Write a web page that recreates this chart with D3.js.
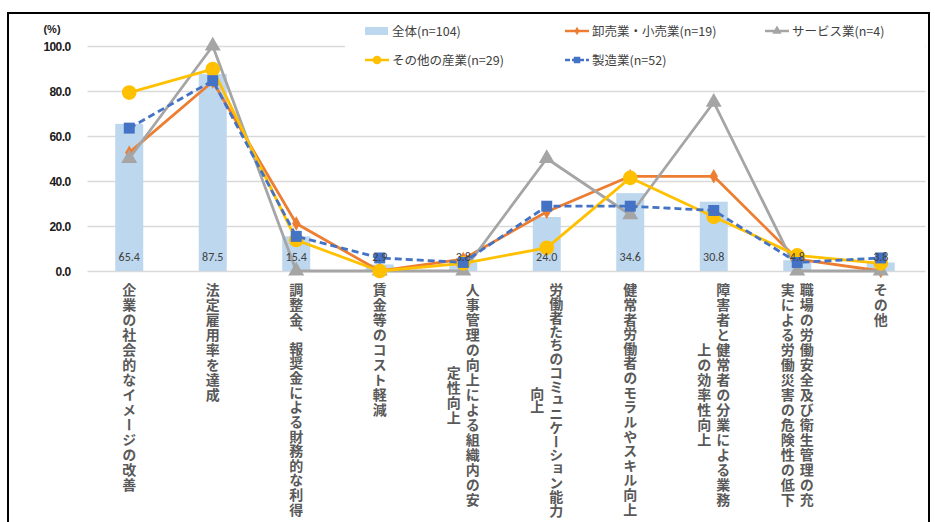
<!DOCTYPE html>
<html><head><meta charset="utf-8">
<script src="https://cdn.jsdelivr.net/npm/d3@7"></script>
<style>
html,body{margin:0;padding:0;background:#fff;}
svg{display:block;}
</style>
</head><body>
<svg id="chart" width="935" height="522"></svg>
<script>
const categories = [
  "企業の社会的なイメージの改善",
  "法定雇用率を達成",
  "調整金、報奨金による財務的な利得",
  "賃金等のコスト軽減",
  "人事管理の向上による組織内の安\n定性向上",
  "労働者たちのコミュニケーション能力\n向上",
  "健常者労働者のモラルやスキル向上",
  "障害者と健常者の分業による業務\n上の効率性向上",
  "職場の労働安全及び衛生管理の充\n実による労働災害の危険性の低下",
  "その他"
];
const seriesNames = ["全体(n=104)", "卸売業・小売業(n=19)", "サービス業(n=4)", "その他の産業(n=29)", "製造業(n=52)"];
const total   = [65.4, 87.5, 15.4, 2.9, 3.8, 24.0, 34.6, 30.8, 4.8, 3.8];
const retail  = [52.6, 84.2, 21.1, 0.0, 5.3, 26.3, 42.1, 42.1, 5.3, 0.0];
const service = [50.0, 100.0, 0.0, 0.0, 0.0, 50.0, 25.0, 75.0, 0.0, 0.0];
const others  = [79.3, 89.7, 13.8, 0.0, 3.4, 10.3, 41.4, 24.1, 6.9, 3.4];
const manuf   = [63.5, 84.6, 15.4, 5.8, 3.8, 28.8, 28.8, 26.9, 3.8, 5.8];
const yTicks  = [0, 20, 40, 60, 80, 100];

const svg = d3.select("#chart");
const plot = {left: 87.5, right: 922.5, top: 46, bottom: 271};

// frame
svg.append("rect").attr("x", 8).attr("y", 13).attr("width", 921).attr("height", 520)
  .attr("fill", "#fff").attr("stroke", "#000").attr("stroke-width", 2);

const x = d3.scaleBand().domain(d3.range(categories.length)).range([plot.left, plot.right]).paddingInner(0).paddingOuter(0);
const y = d3.scaleLinear().domain([0, 100]).range([plot.bottom, plot.top]);
const cx = i => x(i) + x.bandwidth() / 2;

// gridlines + y axis labels
const gAxis = d3.axisLeft(y).tickValues(yTicks).tickSize(-(plot.right + 3 - plot.left)).tickFormat(d => d3.format(".1f")(d));
const ga = svg.append("g").attr("transform", `translate(${plot.left},0)`).call(gAxis);
ga.select(".domain").remove();
ga.selectAll(".tick line").attr("stroke", "#d9d9d9").attr("stroke-width", 1.6);
ga.selectAll(".tick text").attr("x", -17).attr("dy", "0.35em")
  .attr("font-family", "Arial, 'Liberation Sans', sans-serif").attr("font-size", 12).attr("font-weight", "bold")
  .attr("fill", "#1a1a1a").style("letter-spacing", "-0.6px");

svg.append("text").attr("x", 52).attr("y", 33).attr("text-anchor", "middle")
  .attr("font-family", "Arial, 'Liberation Sans', sans-serif").attr("font-size", 11).attr("font-weight", "bold")
  .attr("fill", "#1a1a1a").text("(%)");

// bars
const barW = 28;
svg.append("g").selectAll("rect").data(total).join("rect")
  .attr("x", (d, i) => cx(i) - barW / 2).attr("width", barW)
  .attr("y", d => y(d)).attr("height", d => y(0) - y(d))
  .attr("fill", "#bdd7ee");

// category labels (vertical)
const labG = svg.append("g");
const labTop = 283, labMaxBottom = 517, fs = 14;
categories.forEach((c, i) => {
  const lines = c.split("\n");
  const maxLen = d3.max(lines, l => l.length);
  const pitch = Math.min(15, (labMaxBottom - labTop) / maxLen);
  const midY = labTop + maxLen * pitch / 2;
  const sep = lines.length > 1 ? 19 : 0;
  lines.forEach((l, j) => {
    const colX = cx(i) + (lines.length > 1 ? (sep / 2 - j * sep) : 0);
    labG.append("text")
      .attr("x", colX).attr("y", midY)
      .attr("text-anchor", "middle")
      .style("writing-mode", "vertical-rl")
      .style("letter-spacing", (pitch - fs) + "px")
      .attr("font-family", "'Noto Sans CJK JP', sans-serif")
      .attr("font-size", fs).attr("font-weight", "bold")
      .attr("fill", "#595959")
      .text(l);
  });
});

// lines
const line = d3.line().x((d, i) => cx(i)).y(d => y(d));
const series = [
  {name: seriesNames[1], data: retail, color: "#ed7d31", dash: null, marker: "diamond", size: 60},
  {name: seriesNames[2], data: service, color: "#a5a5a5", dash: null, marker: "triangle", size: 110},
  {name: seriesNames[3], data: others, color: "#ffc000", dash: null, marker: "circle", size: 170},
  {name: seriesNames[4], data: manuf, color: "#4472c4", dash: "7,4", marker: "square", size: 120}
];
const symType = {diamond: d3.symbolDiamond, triangle: d3.symbolTriangle, circle: d3.symbolCircle, square: d3.symbolSquare};
series.forEach(s => {
  const g = svg.append("g");
  g.append("path").attr("d", line(s.data)).attr("fill", "none")
    .attr("stroke", s.color).attr("stroke-width", 2.8)
    .attr("stroke-dasharray", s.dash).attr("stroke-linejoin", "round");
  g.selectAll("path.m").data(s.data).join("path").attr("class", "m")
    .attr("transform", (d, i) => `translate(${cx(i)},${y(d)})`)
    .attr("d", d3.symbol().type(symType[s.marker]).size(s.size))
    .attr("fill", s.color);
});

// bar value labels
svg.append("g").selectAll("text").data(total).join("text")
  .attr("x", (d, i) => cx(i)).attr("y", 261)
  .attr("text-anchor", "middle")
  .attr("font-family", "Calibri, Carlito, 'Liberation Sans', sans-serif").attr("font-size", 12)
  .attr("fill", "#404040")
  .text(d => d3.format(".1f")(d));

// legend
const leg = svg.append("g");
leg.append("rect").attr("x", 345).attr("y", 16).attr("width", 580).attr("height", 58).attr("fill", "#fff");
const legItems = [
  {name: seriesNames[0], type: "bar", x: 365, y: 31},
  {name: seriesNames[1], s: series[0], x: 565, y: 31},
  {name: seriesNames[2], s: series[1], x: 765, y: 31},
  {name: seriesNames[3], s: series[2], x: 365, y: 60},
  {name: seriesNames[4], s: series[3], x: 565, y: 60}
];
legItems.forEach(it => {
  if (it.type === "bar") {
    leg.append("rect").attr("x", it.x).attr("y", it.y - 4).attr("width", 23).attr("height", 8).attr("fill", "#bdd7ee");
  } else {
    leg.append("line").attr("x1", it.x).attr("x2", it.x + 24).attr("y1", it.y).attr("y2", it.y)
      .attr("stroke", it.s.color).attr("stroke-width", 2.5).attr("stroke-dasharray", it.s.dash ? "5,2" : null);
    leg.append("path").attr("transform", `translate(${it.x + 12},${it.y})`)
      .attr("d", d3.symbol().type(symType[it.s.marker]).size(it.s.size * 0.35)).attr("fill", it.s.color);
  }
  leg.append("text").attr("x", it.x + 27).attr("y", it.y).attr("dy", "0.36em")
    .attr("font-family", "'Noto Sans CJK JP', sans-serif").attr("font-size", 12.5)
    .attr("fill", "#404040").text(it.name);
});
</script>
</body></html>
